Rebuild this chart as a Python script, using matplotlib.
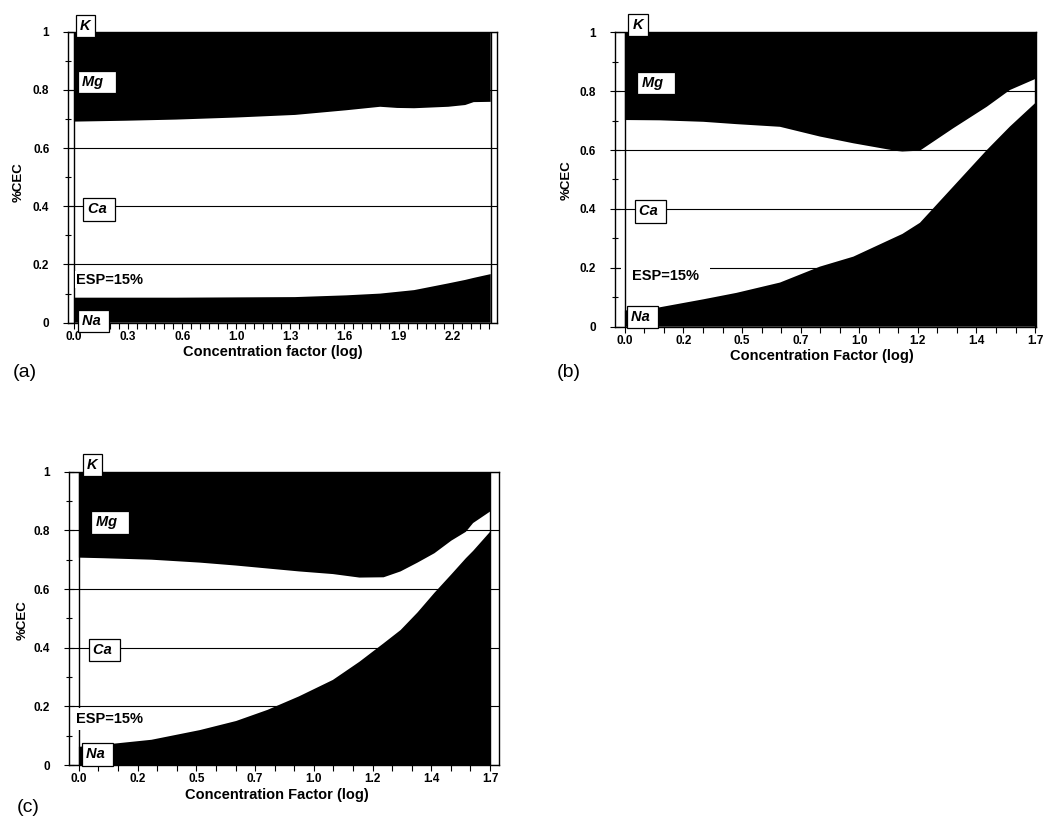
import matplotlib.pyplot as plt
from matplotlib.ticker import FixedLocator, MultipleLocator

plt.rcParams["font.family"] = ["Liberation Sans", "DejaVu Sans"]

# (a) top of the Na band and bottom of the Mg band, %CEC vs log concentration
A_X = [0, 0.3, 0.6, 0.95, 1.3, 1.6, 1.8, 1.9, 2.0, 2.2, 2.3, 2.35, 2.45]
A_NA = [0.086, 0.086, 0.086, 0.087, 0.088, 0.094, 0.100, 0.106, 0.112,
        0.135, 0.147, 0.154, 0.167]
A_MG = [0.691, 0.694, 0.698, 0.705, 0.714, 0.730, 0.742, 0.738, 0.737,
        0.742, 0.748, 0.758, 0.759]

# (b)
B_X = [0, 0.145, 0.325, 0.463, 0.643, 0.808, 0.947, 1.126, 1.15, 1.223,
       1.361, 1.5, 1.596, 1.7]
B_NA = [0.055, 0.066, 0.093, 0.115, 0.150, 0.204, 0.238, 0.306, 0.315,
        0.353, 0.476, 0.600, 0.680, 0.759]
B_MG = [0.702, 0.701, 0.696, 0.688, 0.679, 0.646, 0.623, 0.597, 0.595,
        0.598, 0.674, 0.747, 0.804, 0.841]

# (c)
C_X = [0, 0.1, 0.3, 0.5, 0.65, 0.78, 0.91, 1.05, 1.16, 1.26, 1.33, 1.4,
       1.47, 1.54, 1.6, 1.63, 1.7]
C_NA = [0.062, 0.069, 0.086, 0.119, 0.150, 0.188, 0.234, 0.290, 0.352,
        0.415, 0.460, 0.520, 0.587, 0.650, 0.705, 0.730, 0.795]
C_MG = [0.707, 0.705, 0.700, 0.690, 0.680, 0.670, 0.660, 0.651, 0.639,
        0.640, 0.660, 0.690, 0.722, 0.765, 0.795, 0.825, 0.864]

A_XTICK_LABELS = ["0.0", "0.3", "0.6", "1.0", "1.3", "1.6", "1.9", "2.2"]
BC_XTICK_LABELS = ["0.0", "0.2", "0.5", "0.7", "1.0", "1.2", "1.4", "1.7"]
YTICK_VALUES = [0, 0.2, 0.4, 0.6, 0.8, 1]
YTICK_LABELS = ["0", "0.2", "0.4", "0.6", "0.8", "1"]
ION_LABELS = ["K", "Mg  ", "Ca ", "Na "]
ESP_LABEL = "ESP=15%"
XLABELS = ["Concentration factor (log)", "Concentration Factor (log)",
           "Concentration Factor (log)"]
PANEL_NAMES = ["(a)", "(b)", "(c)"]

W, H = 1047, 819


def px_rect(left, top, right, bottom):
    """Axes rectangle in figure fractions from pixel edges."""
    return [left / W, 1 - bottom / H, (right - left) / W, (bottom - top) / H]


def draw_panel(fig, rect, x, na, mg, xlim, xlabels, xstep, minor_step,
               xlabel, ion_xy, esp_xy, esp_pad, esp_z, xlabel_xy, ylabel_xy):
    ax = fig.add_axes(rect)
    ax.set_xlim(*xlim)
    ax.set_ylim(0, 1)
    ax.set_axisbelow(True)

    ax.fill_between(x, 0, na, facecolor="black", linewidth=0, zorder=1)
    ax.fill_between(x, mg, 1, facecolor="black", linewidth=0, zorder=1)
    ax.axvline(0, color="black", lw=1, zorder=2)
    ax.axvline(x[-1], color="black", lw=1, zorder=2)

    ax.grid(axis="y", color="black", lw=0.8)
    ax.yaxis.set_major_locator(FixedLocator(YTICK_VALUES))
    ax.set_yticklabels(YTICK_LABELS, fontsize=8.5, fontweight="bold")
    ax.yaxis.set_minor_locator(MultipleLocator(0.1))
    ax.set_xticks([i * xstep for i in range(len(xlabels))])
    ax.set_xticklabels(xlabels, fontsize=8.5, fontweight="bold")
    ax.xaxis.set_minor_locator(MultipleLocator(minor_step))
    ax.tick_params(axis="y", which="both", direction="inout", length=7,
                   width=0.8, pad=10)
    ax.tick_params(axis="y", which="minor", length=4)
    ax.tick_params(axis="x", which="both", direction="out", length=4,
                   width=0.8, pad=2)
    for spine in ax.spines.values():
        spine.set_linewidth(1)

    ax.set_xlabel(xlabel, fontsize=10.5, fontweight="bold")
    ax.xaxis.set_label_coords(*xlabel_xy)
    ax.set_ylabel("%CEC", fontsize=9.5, fontweight="bold")
    ax.yaxis.set_label_coords(*ylabel_xy)

    box = dict(boxstyle="square,pad=0.3", facecolor="white",
               edgecolor="black", linewidth=0.9)
    for name, (tx, ty) in zip(ION_LABELS, ion_xy):
        ax.text(tx, ty, name, fontsize=10.5, fontweight="bold",
                fontstyle="italic", ha="left", va="center", bbox=box,
                zorder=5, clip_on=False)

    esp_box = dict(boxstyle=f"square,pad={esp_pad}", facecolor="white",
                   edgecolor="none")
    ax.text(esp_xy[0], esp_xy[1], ESP_LABEL, fontsize=10.5, fontweight="bold",
            ha="left", va="center", bbox=esp_box, zorder=esp_z)
    return ax


fig = plt.figure(figsize=(W / 100, H / 100), dpi=100)

draw_panel(fig, px_rect(68, 31.7, 497, 322.7), A_X, A_NA, A_MG,
           (-0.035, 2.487), A_XTICK_LABELS, 0.318, 0.053, XLABELS[0],
           [(0.035, 1.02), (0.047, 0.827), (0.08, 0.39), (0.047, 0.006)],
           (0.012, 0.147), 0.1, 4, (0.478, -0.078), (-0.100, 0.4835))

draw_panel(fig, px_rect(615, 32.3, 1036, 326.7), B_X, B_NA, B_MG,
           (-0.041, 1.704), BC_XTICK_LABELS, 1.7 / 7, 1.7 / 21, XLABELS[1],
           [(0.033, 1.025), (0.07, 0.828), (0.058, 0.392), (0.025, 0.033)],
           (0.03, 0.172), 0.75, 1.5, (0.492, -0.077), (-0.100, 0.498))

draw_panel(fig, px_rect(69, 471.7, 499, 765), C_X, C_NA, C_MG,
           (-0.041, 1.737), BC_XTICK_LABELS, 1.7 / 7, 1.7 / 21, XLABELS[2],
           [(0.033, 1.023), (0.07, 0.828), (0.058, 0.392), (0.029, 0.037)],
           (-0.012, 0.157), 0.25, 4, (0.484, -0.080), (-0.095, 0.494))

for name, (px, py) in zip(PANEL_NAMES, [(13, 373), (557, 373), (17, 808)]):
    fig.text(px / W, 1 - py / H, name, fontsize=14, ha="left", va="center")

fig.savefig("out.png", dpi=100)
